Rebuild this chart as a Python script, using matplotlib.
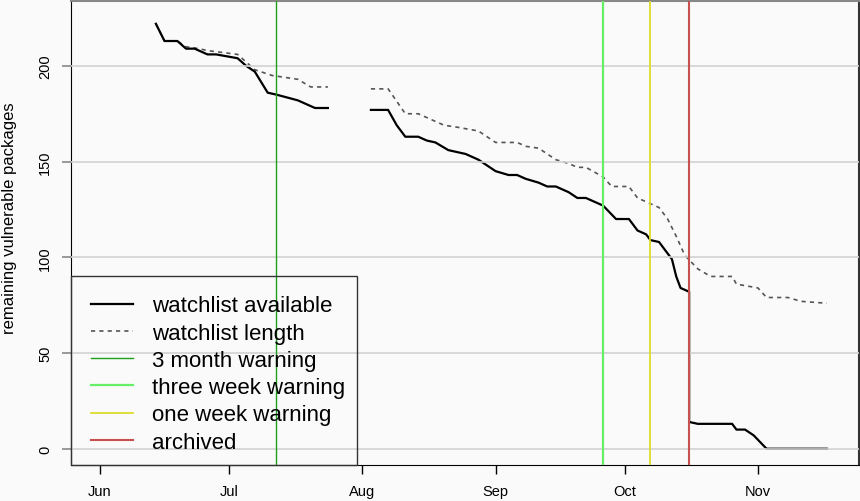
import numpy as np
import pandas as pd
import matplotlib
matplotlib.use('Agg')
import matplotlib.pyplot as plt
import matplotlib.dates as mdates
from matplotlib.patches import Rectangle

plt.rcParams['font.family'] = ['Liberation Sans', 'DejaVu Sans']

# watchlist available (solid line); NaN marks the gap in late July
avail_dates = ['2023-06-14', '2023-06-16', '2023-06-19', '2023-06-21', '2023-06-23',
               '2023-06-26', '2023-06-28', '2023-07-03', '2023-07-05', '2023-07-07',
               '2023-07-10', '2023-07-12', '2023-07-17', '2023-07-21', '2023-07-24',
               '2023-07-28',
               '2023-08-03', '2023-08-07', '2023-08-09', '2023-08-11', '2023-08-14',
               '2023-08-16', '2023-08-18', '2023-08-21', '2023-08-25', '2023-08-28',
               '2023-09-01', '2023-09-04', '2023-09-06', '2023-09-08', '2023-09-11',
               '2023-09-13', '2023-09-15', '2023-09-18', '2023-09-20', '2023-09-22',
               '2023-09-26', '2023-09-29', '2023-10-02', '2023-10-04', '2023-10-06',
               '2023-10-07', '2023-10-09', '2023-10-10', '2023-10-12', '2023-10-13',
               '2023-10-14', '2023-10-16', '2023-10-16', '2023-10-18', '2023-10-26',
               '2023-10-27', '2023-10-29', '2023-10-31', '2023-11-03', '2023-11-17']
avail_vals = [222, 213, 213, 209, 209,
              206, 206, 204, 200, 197,
              186, 185, 182, 178, 178,
              np.nan,
              177, 177, 169, 163, 163,
              161, 160, 156, 154, 151,
              145, 143, 143, 141, 139,
              137, 137, 134, 131, 131,
              127, 120, 120, 114, 112,
              109, 108, 105, 99, 90,
              84, 82, 14, 13, 13,
              10, 10, 7, 0, 0]

# watchlist length (dashed line)
length_dates = ['2023-06-14', '2023-06-16', '2023-06-19', '2023-06-21', '2023-06-24',
                '2023-06-26', '2023-07-03', '2023-07-05', '2023-07-07', '2023-07-11',
                '2023-07-14', '2023-07-17', '2023-07-20', '2023-07-24',
                '2023-07-28',
                '2023-08-03', '2023-08-07', '2023-08-11', '2023-08-14', '2023-08-16',
                '2023-08-20', '2023-08-23', '2023-08-28', '2023-08-30', '2023-09-01',
                '2023-09-06', '2023-09-08', '2023-09-11', '2023-09-13', '2023-09-15',
                '2023-09-18', '2023-09-20', '2023-09-22', '2023-09-26', '2023-09-28',
                '2023-10-02', '2023-10-04', '2023-10-07', '2023-10-09', '2023-10-11',
                '2023-10-13', '2023-10-15', '2023-10-18', '2023-10-21', '2023-10-26',
                '2023-10-27', '2023-11-01', '2023-11-03', '2023-11-08', '2023-11-11',
                '2023-11-17']
length_vals = [222, 213, 213, 210, 209,
               208, 206, 202, 198, 195,
               194, 193, 189, 189,
               np.nan,
               188, 188, 175, 175, 173,
               169, 168, 166, 163, 160,
               160, 158, 157, 154, 151,
               149, 147, 147, 142, 137,
               137, 131, 128, 126, 120,
               111, 101, 94, 90, 90,
               86, 84, 79, 79, 77,
               76]

# event markers
event_labels = ['3 month warning', 'three week warning', 'one week warning', 'archived']
event_dates = ['2023-07-12', '2023-09-26', '2023-10-07', '2023-10-16']
event_colors = ['#1ea01e', '#66ee66', '#dcdc28', '#c85050']
event_widths = [1.0, 1.6, 1.3, 1.5]

month_ticks = ['2023-06-01', '2023-07-01', '2023-08-01', '2023-09-01', '2023-10-01', '2023-11-01']
month_labels = ['Jun', 'Jul', 'Aug', 'Sep', 'Oct', 'Nov']
y_ticks = [0, 50, 100, 150, 200]

bg = '#fafafa'
fig = plt.figure(figsize=(8.6, 5.02), dpi=100, facecolor=bg)
ax = fig.add_axes([71 / 860, 1 - 466 / 502, 788 / 860, 464 / 502], facecolor=bg)

h_avail, = ax.plot(pd.to_datetime(avail_dates), avail_vals, color='black', lw=1.6,
                   zorder=2.5, label='watchlist available')
h_len, = ax.plot(pd.to_datetime(length_dates), length_vals, color='#555555', lw=1.2,
                 dashes=(2.5, 2.5), zorder=2, label='watchlist length')

for yv in y_ticks:
    ax.axhline(yv, color='#d2d2d2', lw=1.2, zorder=3)

handles = [h_avail, h_len]
for lab, d, c, w in zip(event_labels, event_dates, event_colors, event_widths):
    h = ax.axvline(pd.Timestamp(d), color=c, lw=w, zorder=4, label=lab)
    handles.append(h)

start = pd.Timestamp('2023-06-01')
ax.set_xlim(start - pd.Timedelta(days=6.74), start + pd.Timedelta(days=176.5))
ax.set_ylim(-8.5, 233.9)

ax.set_xticks(pd.to_datetime(month_ticks))
ax.set_xticklabels(month_labels, fontsize=10.5)
ax.set_yticks(y_ticks)
ax.set_yticklabels([str(v) for v in y_ticks], fontsize=10.5, rotation=90, va='center')
ax.tick_params(axis='x', length=6.5, width=1, color='black', pad=7.5)
ax.tick_params(axis='y', length=6.5, width=1.2, color='#888888', pad=7)
ax.set_ylabel('remaining vulnerable packages', fontsize=12)
ax.yaxis.set_label_coords(-0.0685, 0.535)

ax.spines['left'].set_color('black')
ax.spines['bottom'].set_color('black')
ax.spines['top'].set_color('#888888')
ax.spines['top'].set_linewidth(1.5)
ax.spines['right'].set_color('#333333')
ax.spines['right'].set_linewidth(1.5)

# legend box, R style: sits in the lower left corner, no fill
ax.add_patch(Rectangle((0, 0), (357 - 71) / 788, (466 - 277) / 464, transform=ax.transAxes,
                       fill=False, edgecolor='#333333', lw=1.0, zorder=5, clip_on=False))
leg = ax.legend(handles=handles, loc='upper left', bbox_to_anchor=(20 / 788, (466 - 296.5) / 464),
                fontsize=16, frameon=False, borderaxespad=0, borderpad=0,
                handlelength=1.9, handletextpad=0.85, labelspacing=0.28)
leg.set_zorder(5)

fig.savefig('out.png', dpi=100, facecolor=bg)
